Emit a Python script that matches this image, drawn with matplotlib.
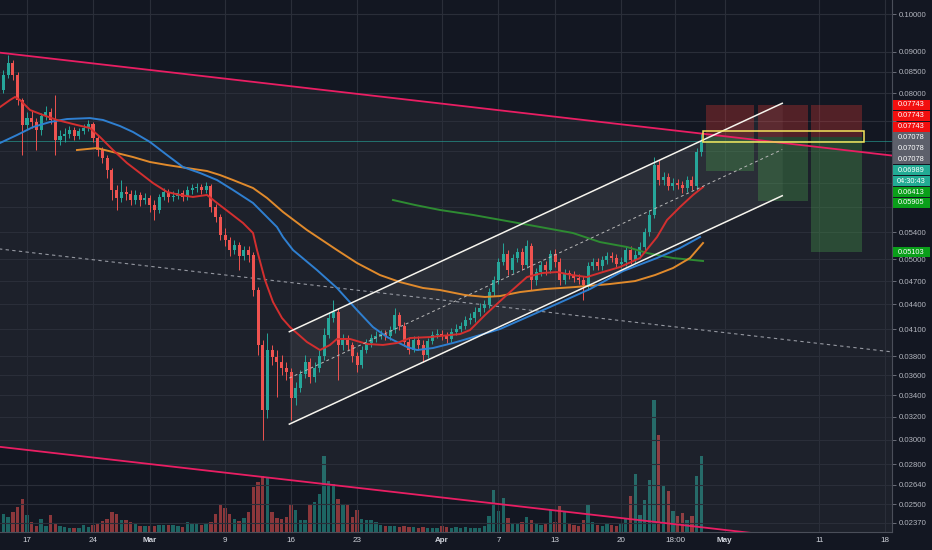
import numpy as np
import pandas as pd
import matplotlib
matplotlib.use("Agg")
import matplotlib.pyplot as plt
import matplotlib.dates as mdates
from matplotlib.patches import Rectangle
from matplotlib.ticker import NullLocator

plt.rcParams['font.family'] = ['Liberation Sans', 'DejaVu Sans']

# --- 12h candles, starting 2020-02-14 12:00 ---
candle_start = "2020-02-14 12:00"
first_open = 0.08076
close = [0.08425, 0.08717, 0.08425, 0.07850, 0.07313, 0.07458, 0.07376, 0.07211, 0.07501, 0.07588,
         0.07418, 0.07009, 0.07089, 0.07130, 0.07211, 0.07089, 0.07191, 0.07250, 0.07334, 0.07048,
         0.06813, 0.06659, 0.06438, 0.06084, 0.05948, 0.06050, 0.06016, 0.05914, 0.05999, 0.05914,
         0.05948, 0.05831, 0.05749, 0.05965, 0.06050, 0.05965, 0.05982, 0.06033, 0.05965, 0.06084,
         0.06118, 0.06135, 0.06084, 0.06153, 0.05798, 0.05637, 0.05355, 0.05280, 0.05133, 0.05206,
         0.05047, 0.05133, 0.05061, 0.04583, 0.03923, 0.03263, 0.03867, 0.03791, 0.03738, 0.03675,
         0.03633, 0.03375, 0.03473, 0.03613, 0.03738, 0.03582, 0.03675, 0.03802, 0.04035, 0.04234,
         0.04307, 0.03923, 0.03978, 0.03923, 0.03802, 0.03706, 0.03867, 0.03945, 0.04001, 0.04024,
         0.04046, 0.04024, 0.04092, 0.04270, 0.04139, 0.03956, 0.03867, 0.03978, 0.03923, 0.03813,
         0.03967, 0.04035, 0.04046, 0.04024, 0.03990, 0.04069, 0.04104, 0.04139, 0.04210, 0.04234,
         0.04307, 0.04356, 0.04393, 0.04557, 0.04715, 0.04962, 0.05075, 0.04850, 0.05018, 0.05104,
         0.04920, 0.05192, 0.04715, 0.04823, 0.04920, 0.04850, 0.05075, 0.04962, 0.04715, 0.04809,
         0.04782, 0.04742, 0.04715, 0.04649, 0.04906, 0.04962, 0.04906, 0.04990, 0.05047, 0.05018,
         0.04934, 0.04962, 0.05133, 0.04990, 0.05061, 0.05177, 0.05401, 0.05669, 0.06530, 0.06258,
         0.06311, 0.06153, 0.06205, 0.06170, 0.06118, 0.06258, 0.06153, 0.06775, 0.06989]
high = [0.08546, 0.08917, 0.08792, 0.08498, 0.07893, 0.07588, 0.07631, 0.07458, 0.07566, 0.07717,
        0.07672, 0.07962, 0.07211, 0.07250, 0.07292, 0.07271, 0.07250, 0.07334, 0.07418, 0.07376,
        0.07109, 0.06874, 0.06717, 0.06474, 0.06170, 0.06258, 0.06153, 0.06084, 0.06084, 0.06050,
        0.06033, 0.05999, 0.05914, 0.06016, 0.06118, 0.06101, 0.06067, 0.06101, 0.06084, 0.06153,
        0.06187, 0.06205, 0.06187, 0.06223, 0.06187, 0.05848, 0.05685, 0.05463, 0.05325, 0.05280,
        0.05250, 0.05192, 0.05192, 0.05104, 0.04622, 0.03978, 0.04058, 0.03923, 0.03867, 0.03813,
        0.03738, 0.03675, 0.03532, 0.03654, 0.03813, 0.03780, 0.03738, 0.03867, 0.04115, 0.04307,
        0.04455, 0.04356, 0.04046, 0.04035, 0.03956, 0.03845, 0.03912, 0.03990, 0.04046, 0.04081,
        0.04092, 0.04092, 0.04139, 0.04356, 0.04307, 0.04186, 0.04001, 0.04024, 0.04024, 0.03978,
        0.04001, 0.04081, 0.04104, 0.04092, 0.04069, 0.04115, 0.04162, 0.04186, 0.04258, 0.04295,
        0.04368, 0.04418, 0.04455, 0.04610, 0.04769, 0.05018, 0.05236, 0.05133, 0.05075, 0.05162,
        0.05162, 0.05280, 0.05236, 0.04878, 0.04976, 0.04976, 0.05133, 0.05148, 0.05018, 0.04864,
        0.04850, 0.04836, 0.04796, 0.04769, 0.04962, 0.05018, 0.05018, 0.05047, 0.05104, 0.05104,
        0.05075, 0.05032, 0.05192, 0.05192, 0.05133, 0.05250, 0.05463, 0.05749, 0.06680, 0.06623,
        0.06402, 0.06384, 0.06291, 0.06275, 0.06240, 0.06329, 0.06329, 0.06851, 0.07150]
low = [0.08007, 0.08352, 0.08308, 0.07739, 0.06717, 0.07211, 0.07250, 0.06813, 0.07109, 0.07418,
       0.07334, 0.06717, 0.06912, 0.06970, 0.07048, 0.07009, 0.07028, 0.07130, 0.07191, 0.06970,
       0.06698, 0.06567, 0.06291, 0.05914, 0.05749, 0.05881, 0.05914, 0.05831, 0.05848, 0.05815,
       0.05848, 0.05717, 0.05588, 0.05701, 0.05914, 0.05881, 0.05897, 0.05931, 0.05897, 0.05914,
       0.06016, 0.06050, 0.06016, 0.06033, 0.05717, 0.05557, 0.05280, 0.05192, 0.05047, 0.05075,
       0.04850, 0.04990, 0.04962, 0.04506, 0.03813, 0.02997, 0.03190, 0.03706, 0.03385, 0.03603,
       0.03552, 0.03172, 0.03309, 0.03433, 0.03572, 0.03522, 0.03532, 0.03633, 0.03759, 0.04001,
       0.04186, 0.03552, 0.03867, 0.03867, 0.03738, 0.03633, 0.03675, 0.03834, 0.03901, 0.03956,
       0.03990, 0.03978, 0.03978, 0.04058, 0.04092, 0.03912, 0.03823, 0.03845, 0.03867, 0.03738,
       0.03780, 0.03934, 0.04001, 0.03978, 0.03945, 0.03956, 0.04035, 0.04069, 0.04104, 0.04162,
       0.04186, 0.04258, 0.04307, 0.04356, 0.04506, 0.04662, 0.04920, 0.04782, 0.04809, 0.04962,
       0.04850, 0.04878, 0.04583, 0.04649, 0.04769, 0.04782, 0.04809, 0.04892, 0.04649, 0.04662,
       0.04728, 0.04688, 0.04662, 0.04455, 0.04583, 0.04850, 0.04850, 0.04850, 0.04934, 0.04962,
       0.04878, 0.04878, 0.04906, 0.04934, 0.04948, 0.05018, 0.05133, 0.05340, 0.05620, 0.06170,
       0.06170, 0.06084, 0.06084, 0.06101, 0.06033, 0.06050, 0.06084, 0.06084, 0.06698]
volume = [180, 150, 200, 250, 330, 170, 100, 60, 130, 60,
          170, 80, 60, 50, 40, 40, 40, 70, 50, 70,
          90, 110, 130, 200, 180, 120, 120, 100, 80, 60,
          60, 60, 60, 70, 70, 70, 70, 60, 50, 100,
          80, 90, 70, 80, 100, 180, 270, 240, 180, 130,
          110, 140, 200, 450, 500, 560, 550, 200, 140, 130,
          150, 270, 220, 120, 120, 280, 300, 380, 760, 510,
          480, 330, 280, 270, 150, 220, 130, 120, 120, 100,
          70, 60, 60, 60, 50, 60, 50, 50, 40, 50,
          40, 40, 40, 60, 50, 40, 50, 40, 50, 40,
          40, 40, 60, 160, 420, 210, 340, 140, 80, 80,
          100, 150, 120, 80, 70, 80, 220, 100, 260, 200,
          80, 70, 60, 120, 270, 100, 70, 60, 80, 70,
          60, 80, 140, 360, 580, 170, 320, 520, 1320, 970,
          460, 410, 210, 160, 190, 120, 160, 560, 760]

# --- moving averages (days after 2020-02-17) ---
base_date = "2020-02-17"
ema_days = [-2.86, -1.80, -1.27, -0.74, 0.32, 1.70, 3.18, 5.30, 6.68, 7.74, 9.12, 10.60, 11.98, 13.36,
            14.85, 16.22, 17.60, 19.09, 20.15, 21.53, 22.91, 23.97, 24.39, 25.24, 26.09, 27.04, 27.89,
            29.69, 31.07, 32.13, 32.87, 34.25, 36.06, 37.75, 39.24, 40.62, 42.74, 45.92, 46.98, 48.57,
            49.95, 51.22, 53.02, 54.61, 56.20, 57.79, 59.38, 61.08, 62.89, 65.01, 66.81, 67.87, 69.25,
            70.63, 71.69]
ema_vals = [0.07695, 0.07850, 0.07917, 0.07850, 0.07631, 0.07523, 0.07418, 0.07313, 0.07250, 0.07069,
            0.06813, 0.06567, 0.06384, 0.06205, 0.06050, 0.05999, 0.05965, 0.05999, 0.05864, 0.05701,
            0.05541, 0.05386, 0.05133, 0.04715, 0.04430, 0.04234, 0.04127, 0.03956, 0.03867, 0.03923,
            0.03990, 0.03990, 0.03934, 0.03923, 0.03945, 0.04001, 0.04012, 0.04046, 0.04092, 0.04270,
            0.04418, 0.04557, 0.04755, 0.04809, 0.04823, 0.04782, 0.04755, 0.04823, 0.04892, 0.05018,
            0.05325, 0.05588, 0.05798, 0.05999, 0.06135]
blue_days = [-2.86, -1.06, 0.64, 2.44, 4.24, 6.68, 8.06, 9.86, 11.24, 13.04, 14.85, 16.54, 18.35, 20.15,
             21.85, 23.97, 26.51, 27.15, 28.21, 30.75, 32.87, 34.99, 36.69, 38.18, 40.30, 41.36, 43.05,
             45.17, 45.92, 50.16, 55.46, 59.70, 63.20, 66.81, 69.25, 71.37]
blue_vals = [0.06950, 0.07109, 0.07271, 0.07376, 0.07438, 0.07458, 0.07418, 0.07292, 0.07170, 0.06970,
             0.06717, 0.06493, 0.06384, 0.06258, 0.06084, 0.05864, 0.05478, 0.05325, 0.05133, 0.04850,
             0.04610, 0.04331, 0.04127, 0.04012, 0.03901, 0.03867, 0.03889, 0.03945, 0.03967, 0.04104,
             0.04368, 0.04596, 0.04836, 0.05018, 0.05162, 0.05325]
orange_days = [5.30, 7.42, 9.12, 11.24, 13.04, 14.85, 16.97, 19.09, 20.47, 21.85, 23.97, 25.45, 27.15,
               29.69, 32.87, 34.99, 37.43, 39.55, 41.99, 43.80, 46.45, 48.57, 50.16, 52.28, 54.93, 58.11,
               61.82, 64.48, 66.60, 68.51, 70.31, 71.69]
orange_vals = [0.06813, 0.06851, 0.06774, 0.06679, 0.06586, 0.06530, 0.06474, 0.06420, 0.06347, 0.06258,
               0.06118, 0.05948, 0.05717, 0.05432, 0.05133, 0.04948, 0.04782, 0.04688, 0.04610, 0.04583,
               0.04519, 0.04494, 0.04506, 0.04557, 0.04596, 0.04622, 0.04662, 0.04701, 0.04782, 0.04878,
               0.05018, 0.05236]
green_days = [38.81, 41.15, 43.80, 47.30, 50.90, 54.40, 57.90, 60.76, 63.63, 65.75, 68.51, 71.69]
green_vals = [0.05914, 0.05831, 0.05749, 0.05669, 0.05572, 0.05479, 0.05386, 0.05250, 0.05177, 0.05090,
              0.05018, 0.04976]

# --- drawings ---
wedge_days = [-3, 95]
wedge_top = [0.08979, 0.06640]
wedge_bottom = [0.02941, 0.02179]
trend_dashed = [0.05150, 0.03808]
channel_days = [27.82, 80.09]
channel_upper = [0.04073, 0.07777]
channel_mid = [0.03572, 0.06823]
channel_lower = [0.03135, 0.05986]
box_days = [71.65, 88.78]
box_prices = [0.06977, 0.07195]
pos_days = [(72.0, 77.06), (77.49, 82.79), (83.1, 88.5)]
stop = 0.07743
entry = 0.07078
targets = [0.06413, 0.05905, 0.05103]
last_price = 0.06989
countdown = "04:30:43"

tick_dates = ["2020-02-17", "2020-02-24", "2020-03-01", "2020-03-09", "2020-03-16", "2020-03-23",
              "2020-04-01", "2020-04-07", "2020-04-13", "2020-04-20", "2020-04-25 18:00", "2020-05-01",
              "2020-05-11", "2020-05-18"]
tick_labels = ["17", "24", "Mar", "9", "16", "23", "Apr", "7", "13", "20", "18:00", "May", "11", "18"]
price_ticks = [0.1, 0.09, 0.085, 0.08, 0.074, 0.068, 0.062, 0.058, 0.054, 0.05, 0.047, 0.044, 0.041,
               0.038, 0.036, 0.034, 0.032, 0.030, 0.028, 0.0264, 0.025, 0.0237]
# these scale labels sit behind the price tags
covered_ticks = [0.074, 0.068, 0.062, 0.058]

BG = '#131722'
UP = '#26a69a'
DOWN = '#ef5350'

base = mdates.date2num(pd.Timestamp(base_date))
def dx(days):
    return base + np.asarray(days, dtype=float)

t = mdates.date2num(pd.date_range(candle_start, periods=len(close), freq="12h"))
c = np.array(close)
o = np.array([first_open] + close[:-1])
up = c >= o
cols = np.where(up, UP, DOWN)

fig = plt.figure(figsize=(9.32, 5.5), dpi=100, facecolor=BG)
rect = [0, 18 / 550, 892 / 932, 532 / 550]
axv = fig.add_axes(rect, zorder=0)
ax = fig.add_axes(rect, zorder=1)
ax.set_facecolor('none')
axv.set_facecolor(BG)

xlim = (base - 2.863, base + 91.73)

# volume underneath
axv.bar(t, volume, width=0.36, color=cols, alpha=0.55, lw=0)
axv.set_xlim(xlim)
axv.set_ylim(0, 5320)
axv.axis('off')

ax.set_yscale('log')
ax.set_xlim(xlim)
ax.set_ylim(0.02310, 0.10419)

# wedge shading and lines
ax.fill_between(dx(wedge_days), wedge_bottom, wedge_top, color='white', alpha=0.045, lw=0, zorder=0.3)
ax.plot(dx(wedge_days), wedge_top, color='#e91e63', lw=1.3, zorder=5)
ax.plot(dx(wedge_days), wedge_bottom, color='#e91e63', lw=1.3, zorder=5)
ax.plot(dx(wedge_days), trend_dashed, color='#9598a1', lw=0.8, dashes=(3, 3), zorder=2)

# current price line
ax.axhline(last_price, color=UP, lw=0.6, alpha=0.7, zorder=1)

# position boxes
for (d0, d1), tgt in zip(pos_days, targets):
    ax.add_patch(Rectangle((base + d0, entry), d1 - d0, stop - entry,
                           fc='#e53935', alpha=0.3, lw=0, zorder=1.5))
    ax.add_patch(Rectangle((base + d0, tgt), d1 - d0, entry - tgt,
                           fc='#4caf50', alpha=0.3, lw=0, zorder=1.5))

# rising channel
ax.fill_between(dx(channel_days), channel_lower, channel_upper, color='white', alpha=0.06, lw=0, zorder=1)
ax.plot(dx(channel_days), channel_upper, color='#f7f5ee', lw=1.1, zorder=5)
ax.plot(dx(channel_days), channel_lower, color='#f7f5ee', lw=1.1, zorder=5)
ax.plot(dx(channel_days), channel_mid, color='#b8b8b8', lw=0.7, dashes=(3, 3), zorder=5)

# candles
ax.vlines(t, low, high, colors=cols, lw=0.7, zorder=3)
ax.bar(t, np.abs(c - o), bottom=np.minimum(o, c), width=0.32, color=cols, lw=0, zorder=3.1)

# moving averages
ax.plot(dx(green_days), green_vals, color='#2e8b32', lw=1.4, zorder=4)
ax.plot(dx(orange_days), orange_vals, color='#e08a2c', lw=1.4, zorder=4)
ax.plot(dx(blue_days), blue_vals, color='#2f7fd0', lw=1.4, zorder=4)
ax.plot(dx(ema_days), ema_vals, color='#d32f2f', lw=1.4, zorder=4)

# yellow box
ax.add_patch(Rectangle((base + box_days[0], box_prices[0]), box_days[1] - box_days[0],
                       box_prices[1] - box_prices[0], fill=False, ec='#f4e55c', lw=1.1, zorder=6))

# axes styling
ax.set_xticks([mdates.date2num(pd.Timestamp(s)) for s in tick_dates])
ax.set_xticklabels(tick_labels)
for lab in ax.get_xticklabels():
    if lab.get_text() in ("Mar", "Apr", "May"):
        lab.set_fontweight('bold')
ax.yaxis.tick_right()
ax.set_yticks(price_ticks)
ax.set_yticklabels(["" if v in covered_ticks else f"{v:.5f}" for v in price_ticks])
ax.yaxis.set_minor_locator(NullLocator())
ax.tick_params(axis='x', length=0, pad=3.5, labelsize=5.8, labelcolor='#d1d4dc')
ax.tick_params(axis='y', length=3, width=0.6, color='#787b86', pad=2, labelsize=5.6, labelcolor='#b2b5be')
ax.grid(True, color='#2a2e39', lw=0.8, zorder=0)
ax.set_axisbelow(True)
for side in ('top', 'left'):
    ax.spines[side].set_visible(False)
for side in ('right', 'bottom'):
    ax.spines[side].set_color('#4a4e59')
    ax.spines[side].set_linewidth(0.8)

# price labels on the right scale, stacked like the platform does
red, grey, teal, green = '#f20f0f', '#5d606b', '#22ab94', '#0a9f1a'
labels = [(f"{stop:.5f}", stop, red)] * 3 + [(f"{entry:.5f}", entry, grey)] * 3
labels += [(f"{last_price:.5f}", last_price, teal), (countdown, last_price, teal)]
labels += [(f"{p:.5f}", p, green) for p in targets]
labels.sort(key=lambda r: -r[1])
H = 550
prev = -100
for text, price, col in labels:
    y = H - ax.transData.transform((xlim[0], price))[1]
    y = max(y, prev + 10.9)
    prev = y
    fig.add_artist(Rectangle((893 / 932, 1 - (y + 5.1) / H), 37 / 932, 10.2 / H,
                             transform=fig.transFigure, fc=col, ec='none', zorder=5))
    fig.text(911.5 / 932, 1 - y / H, text, color='white', fontsize=5.3,
             ha='center', va='center', zorder=6)

fig.savefig("out.png", dpi=100, facecolor=BG)
